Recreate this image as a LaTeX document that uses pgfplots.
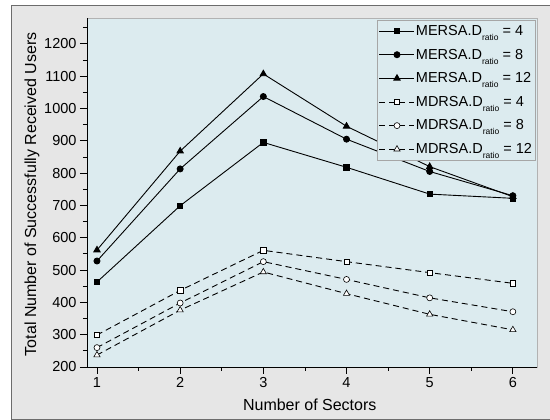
\documentclass[border=0pt]{standalone}
\usepackage{pgfplots}
\pgfplotsset{compat=1.18}
\usepackage{fontspec}
\setmainfont{Liberation Sans}
\definecolor{outerbg}{HTML}{E6E6E6}
\definecolor{plotbg}{HTML}{DCEBEF}
\newcommand{\rt}{\raisebox{-5pt}{\fontsize{8.5}{9}\selectfont ratio}}
\begin{document}
\begin{tikzpicture}
\path[use as bounding box] (-87pt,-53pt) rectangle (463pt,367pt);
\fill[white] (-87pt,-53pt) rectangle (463pt,367pt);
\filldraw[fill=outerbg, draw=gray!85!black, line width=0.8pt] (-76pt,-52pt) rectangle (470pt,362pt);
\begin{axis}[at={(0pt,0pt)}, anchor=south west,
  width=450pt, height=349pt, scale only axis,
  xmin=0.88, xmax=6.29, ymin=200, ymax=1280,
  axis background/.style={fill=plotbg, draw=gray!60},
  axis lines=left, axis line style={-, line width=0.9pt, black},
  tick align=outside, tick style={black, line width=0.8pt},
  major tick length=7pt, minor tick length=4pt,
  xtick={1,2,3,4,5,6}, minor xtick={1.5,2.5,3.5,4.5,5.5},
  ytick={200,300,...,1200}, minor ytick={250,350,...,1250},
  ticklabel style={font=\fontsize{14.5}{17}\selectfont},
  /pgf/number format/assume math mode=true,
  /pgf/number format/1000 sep={},
  xlabel={Number of Sectors},
  ylabel={Total Number of Successfully Received Users},
  label style={font=\fontsize{16}{19}\selectfont},
  xlabel style={at={(axis description cs:0.495,-0.109)}, anchor=center},
  ylabel style={at={(axis description cs:-0.122,0.495)}, anchor=center},
  legend style={at={(axis description cs:0.996,0.994)}, anchor=north east,
    draw=gray!70, fill=plotbg, font=\fontsize{14.5}{17}\selectfont,
    row sep=8pt, inner xsep=2pt, inner ysep=3pt,
    nodes={inner xsep=1pt, inner ysep=2pt}},
  legend cell align=left,
  legend image code/.code={\draw[mark repeat=2,mark phase=2,#1] plot coordinates {(0pt,0pt) (17.5pt,0pt) (35pt,0pt)};},
  every axis plot/.append style={black, line width=0.9pt},
]
\addplot[mark=square*, mark size=2.7pt] coordinates {(1,463) (2,699) (3,895) (4,818) (5,735) (6,722)};
\addlegendentry{MERSA.D\rt\ = 4}
\addplot[mark=*, mark size=3pt] coordinates {(1,528) (2,813) (3,1037) (4,905) (5,805) (6,730)};
\addlegendentry{MERSA.D\rt\ = 8}
\addplot[mark=triangle*, mark size=3.6pt] coordinates {(1,562) (2,868) (3,1107) (4,945) (5,820) (6,727)};
\addlegendentry{MERSA.D\rt\ = 12}
\addplot[dash pattern=on 6pt off 4pt, mark=square*, mark size=2.7pt, mark options={solid, fill=white, line width=0.6pt}] coordinates {(1,299) (2,437) (3,561) (4,526) (5,492) (6,459)};
\addlegendentry{MDRSA.D\rt\ = 4}
\addplot[dash pattern=on 6pt off 4pt, mark=*, mark size=3pt, mark options={solid, fill=white, line width=0.6pt}] coordinates {(1,260) (2,398) (3,526) (4,471) (5,414) (6,371)};
\addlegendentry{MDRSA.D\rt\ = 8}
\addplot[dash pattern=on 6pt off 4pt, mark=triangle*, mark size=3.6pt, mark options={solid, fill=white, line width=0.6pt}] coordinates {(1,237) (2,376) (3,494) (4,427) (5,363) (6,315)};
\addlegendentry{MDRSA.D\rt\ = 12}
\end{axis}
\end{tikzpicture}
\end{document}
